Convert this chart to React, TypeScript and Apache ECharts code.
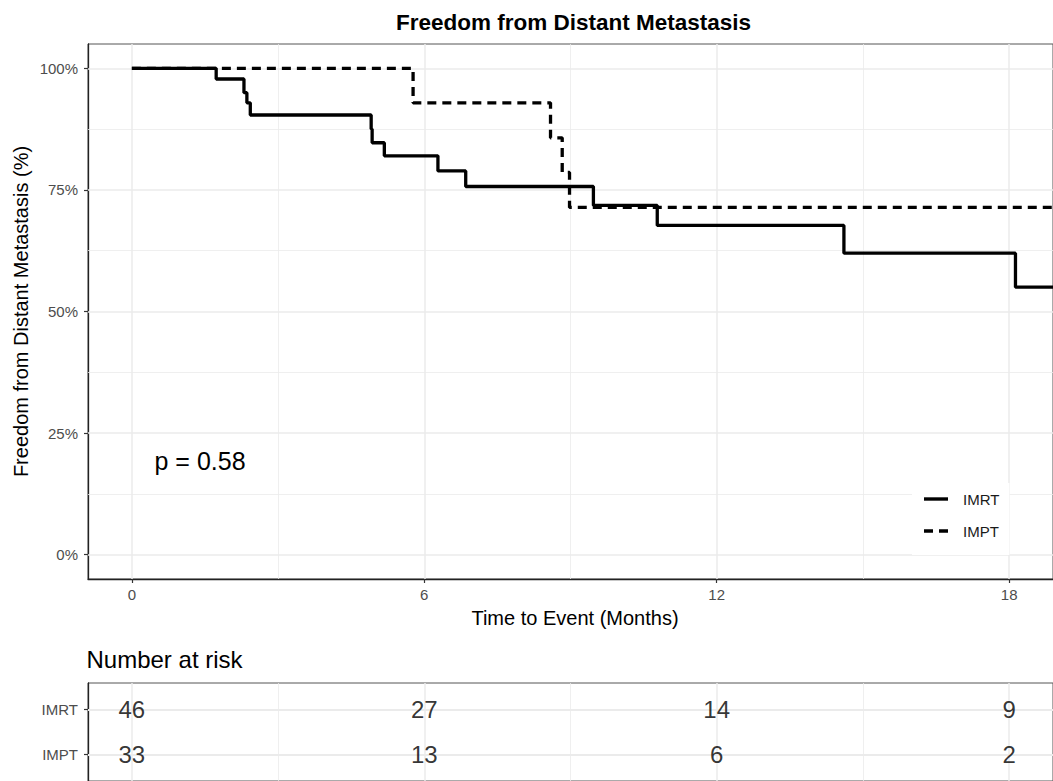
import React, { useEffect, useRef } from "react";
import * as echarts from "echarts";

const FONT = '"Liberation Sans", Arial, Helvetica, sans-serif';

const groups = ["IMRT", "IMPT"];

// Kaplan-Meier step points (months, survival %)
const imrtTimes = [0, 1.73, 2.3, 2.36, 2.43, 4.91, 4.93, 5.18, 6.28, 6.85, 9.47, 10.78, 14.61, 18.13, 18.9];
const imrtSurv = [100, 97.8, 95.0, 92.9, 90.4, 87.5, 84.7, 82.0, 78.9, 75.7, 71.8, 67.7, 62.0, 55.0, 55.0];

const imptTimes = [0, 5.77, 8.59, 8.83, 8.98, 18.9];
const imptSurv = [100, 92.9, 85.7, 78.6, 71.4, 71.4];

// Number at risk table
const riskTimes = [0, 6, 12, 18];
const imrtRisk = [46, 27, 14, 9];
const imptRisk = [33, 13, 6, 2];

// Axis ticks
const xTicks = [0, 6, 12, 18];
const xMinor = [3, 9, 15];
const yTicks = [0, 25, 50, 75, 100];
const yMinor = [12.5, 37.5, 62.5, 87.5];

const pValueText = "p = 0.58";

const GRID_COLOR = "#ebebeb";

function zip(xs: number[], ys: number[]) {
  return xs.map((x, i) => [x, ys[i]]);
}

export default function App() {
  const ref = useRef<HTMLDivElement>(null);

  useEffect(() => {
    if (!ref.current) return;
    const chart = echarts.init(ref.current, null, { renderer: "svg" });

    const mainGridLines = [
      ...xTicks.map((v) => ({ xAxis: v, lineStyle: { width: 1.5 } })),
      ...xMinor.map((v) => ({ xAxis: v, lineStyle: { width: 0.8 } })),
      ...yTicks.map((v) => ({ yAxis: v, lineStyle: { width: 1.5 } })),
      ...yMinor.map((v) => ({ yAxis: v, lineStyle: { width: 0.8 } })),
    ];
    const riskRows = groups.map((_, i) => groups.length - i);
    const riskGridLines = [
      ...xTicks.map((v) => ({ xAxis: v, lineStyle: { width: 1.5 } })),
      ...xMinor.map((v) => ({ xAxis: v, lineStyle: { width: 0.8 } })),
      ...riskRows.map((v) => ({ yAxis: v, lineStyle: { width: 1.8 } })),
    ];

    const gridMarkLine = (data: any[]) => ({
      silent: true,
      z: 1,
      symbol: ["none", "none"],
      label: { show: false },
      lineStyle: { color: GRID_COLOR, type: "solid" },
      emphasis: { disabled: true },
      data,
    });

    const riskData = [
      ...riskTimes.map((t, i) => [t, riskRows[0], imrtRisk[i]]),
      ...riskTimes.map((t, i) => [t, riskRows[1], imptRisk[i]]),
    ];

    const axisTickStyle = { length: 4, lineStyle: { color: "#333333", width: 1.2 } };
    const axisLineStyle = { color: "#222222", width: 1.3 };
    const tickLabel = { fontSize: 15, color: "#4d4d4d", fontFamily: FONT };

    const option: any = {
      animation: false,
      grid: [
        { left: 88, top: 44, width: 971, height: 535, show: true, borderColor: "#555555", borderWidth: 1, backgroundColor: "#ffffff" },
        { left: 88, top: 683, width: 971, height: 102.7, show: true, borderColor: "#555555", borderWidth: 1, backgroundColor: "#ffffff" },
      ],
      xAxis: [
        {
          type: "value",
          gridIndex: 0,
          min: -0.9,
          max: 18.9,
          axisLine: { show: true, onZero: false, lineStyle: axisLineStyle },
          axisTick: { show: true, customValues: xTicks, ...axisTickStyle },
          axisLabel: { show: true, customValues: xTicks, margin: 8, ...tickLabel },
          splitLine: { show: false },
        },
        {
          type: "value",
          gridIndex: 1,
          min: -0.9,
          max: 18.9,
          axisLine: { show: false },
          axisTick: { show: false },
          axisLabel: { show: false },
          splitLine: { show: false },
        },
      ],
      yAxis: [
        {
          type: "value",
          gridIndex: 0,
          min: -5,
          max: 105,
          axisLine: { show: true, onZero: false, lineStyle: axisLineStyle },
          axisTick: { show: true, customValues: yTicks, ...axisTickStyle },
          axisLabel: { show: true, customValues: yTicks, margin: 10, formatter: (v: number) => `${v}%`, ...tickLabel },
          splitLine: { show: false },
        },
        {
          type: "value",
          gridIndex: 1,
          min: 0.4,
          max: 2.6,
          axisLine: { show: true, onZero: false, lineStyle: axisLineStyle },
          axisTick: { show: true, customValues: riskRows, ...axisTickStyle },
          axisLabel: {
            show: true,
            customValues: riskRows,
            margin: 10,
            formatter: (v: number) => groups[groups.length - Math.round(v)] ?? "",
            ...tickLabel,
          },
          splitLine: { show: false },
        },
      ],
      legend: {
        data: [
          { name: groups[0], icon: "rect" },
          { name: groups[1], icon: "path://M0,0h9v3.4h-9zM15,0h9v3.4h-9z" },
        ],
        orient: "vertical",
        left: 912,
        top: 483,
        padding: [8, 10, 16, 12],
        itemWidth: 24,
        itemHeight: 3.4,
        itemGap: 16,
        backgroundColor: "#ffffff",
        selectedMode: false,
        itemStyle: { color: "#000000", borderWidth: 0 },
        lineStyle: { width: 0 },
        textStyle: { fontSize: 15, lineHeight: 16, color: "#1a1a1a", fontFamily: FONT, padding: [0, 0, 0, 10] },
      },
      series: [
        {
          name: "_grid_main",
          type: "line",
          xAxisIndex: 0,
          yAxisIndex: 0,
          data: [],
          z: 1,
          silent: true,
          markLine: gridMarkLine(mainGridLines),
        },
        {
          name: "_grid_risk",
          type: "line",
          xAxisIndex: 1,
          yAxisIndex: 1,
          data: [],
          z: 1,
          silent: true,
          markLine: gridMarkLine(riskGridLines),
        },
        {
          name: groups[0],
          type: "line",
          xAxisIndex: 0,
          yAxisIndex: 0,
          step: "end",
          symbol: "none",
          showSymbol: false,
          z: 3,
          color: "#000000",
          lineStyle: { color: "#000000", width: 3.3, type: "solid" },
          data: zip(imrtTimes, imrtSurv),
        },
        {
          name: groups[1],
          type: "line",
          xAxisIndex: 0,
          yAxisIndex: 0,
          step: "end",
          symbol: "none",
          showSymbol: false,
          z: 3,
          color: "#000000",
          lineStyle: { color: "#000000", width: 3.3, type: [9, 6], cap: "butt" },
          data: zip(imptTimes, imptSurv),
        },
        {
          name: "_risk",
          type: "scatter",
          xAxisIndex: 1,
          yAxisIndex: 1,
          symbolSize: 1,
          itemStyle: { color: "rgba(0,0,0,0)" },
          z: 3,
          silent: true,
          label: {
            show: true,
            position: "inside",
            formatter: (p: any) => String(p.value[2]),
            fontSize: 24,
            color: "#000000",
            fontFamily: FONT,
          },
          data: riskData,
        },
      ],
      graphic: [
        {
          type: "text",
          x: 573.5,
          y: 22,
          style: { text: "Freedom from Distant Metastasis", font: `bold 22.5px ${FONT}`, fill: "#000000", textAlign: "center", textVerticalAlign: "middle" },
        },
        {
          type: "text",
          x: 21,
          y: 311.5,
          rotation: Math.PI / 2,
          style: { text: "Freedom from Distant Metastasis (%)", font: `20px ${FONT}`, fill: "#000000", textAlign: "center", textVerticalAlign: "middle" },
        },
        {
          type: "text",
          x: 575,
          y: 618,
          style: { text: "Time to Event (Months)", font: `20px ${FONT}`, fill: "#000000", textAlign: "center", textVerticalAlign: "middle" },
        },
        {
          type: "text",
          x: 154.5,
          y: 461,
          z: 10,
          style: { text: pValueText, font: `25px ${FONT}`, fill: "#000000", textAlign: "left", textVerticalAlign: "middle" },
        },
        {
          type: "text",
          x: 86.5,
          y: 659,
          style: { text: "Number at risk", font: `24px ${FONT}`, fill: "#000000", textAlign: "left", textVerticalAlign: "middle" },
        },
      ],
    };

    chart.setOption(option);
    return () => chart.dispose();
  }, []);

  return (
    <div
      ref={ref}
      style={{ position: "fixed", left: 0, top: 0, width: 1053, height: 781, background: "#ffffff" }}
    />
  );
}
